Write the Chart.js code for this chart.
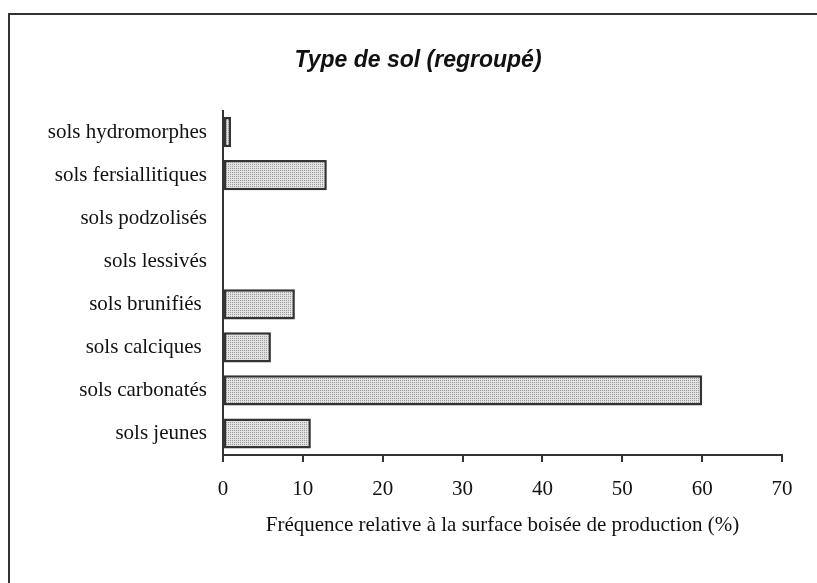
<!DOCTYPE html>
<html>
<head>
<meta charset="utf-8">
<script src="https://cdn.jsdelivr.net/npm/chart.js@4/dist/chart.umd.min.js"></script>
<style>
  html, body { margin: 0; padding: 0; background: #fff; }
  #wrap { width: 817px; height: 583px; }
</style>
</head>
<body>
<div id="wrap"><canvas id="c" width="817" height="583"></canvas></div>
<script>
const chartTitle = 'Type de sol (regroupé)';
const axisTitle = 'Fréquence relative à la surface boisée de production (%)';
const categories = [
  'sols hydromorphes',
  'sols fersiallitiques',
  'sols podzolisés',
  'sols lessivés',
  'sols brunifiés ',
  'sols calciques ',
  'sols carbonatés',
  'sols jeunes'
];
const values = [1, 13, 0, 0, 9, 6, 60, 11];
const xTicks = [0, 10, 20, 30, 40, 50, 60, 70];

const LINE = '#333333';

function makePattern() {
  const p = document.createElement('canvas');
  p.width = 2; p.height = 2;
  const g = p.getContext('2d');
  g.fillStyle = '#e2e2e2';
  g.fillRect(0, 0, 2, 2);
  g.fillStyle = '#9a9a9a';
  g.fillRect(0, 0, 1, 1);
  return g.createPattern(p, 'repeat');
}

const framePlugin = {
  id: 'frame',
  afterLayout(chart) {
    // centre the title over x = 418 like the reference
    const t = chart.titleBlock;
    if (t) { t.left += 28; }
  },
  afterDraw(chart) {
    const ctx = chart.ctx;
    ctx.save();
    ctx.strokeStyle = LINE;
    ctx.lineWidth = 2;
    ctx.beginPath();
    ctx.moveTo(9, 583);
    ctx.lineTo(9, 14);
    ctx.lineTo(817, 14);
    ctx.stroke();
    ctx.restore();
  }
};

const ctx = document.getElementById('c').getContext('2d');
new Chart(ctx, {
  type: 'bar',
  data: {
    labels: categories,
    datasets: [{
      data: values,
      backgroundColor: makePattern(),
      borderColor: LINE,
      borderWidth: 2.5,
      borderSkipped: false,
      barPercentage: 0.7,
      categoryPercentage: 1.0
    }]
  },
  plugins: [framePlugin],
  options: {
    indexAxis: 'y',
    responsive: false,
    animation: false,
    devicePixelRatio: 1,
    layout: { padding: { left: 26, right: 35, top: 0, bottom: 28 } },
    plugins: {
      legend: { display: false },
      tooltip: { enabled: false },
      title: {
        display: true,
        text: chartTitle,
        color: '#111',
        font: { family: 'Liberation Sans', size: 23, style: 'italic', weight: 'bold', lineHeight: 1.2 },
        padding: { top: 47, bottom: 36 }
      }
    },
    scales: {
      x: {
        type: 'linear',
        position: 'bottom',
        min: xTicks[0],
        max: xTicks[xTicks.length - 1],
        afterBuildTicks: (s) => { s.ticks = xTicks.map(v => ({ value: v })); },
        afterFit: (s) => { s.height = 100; },
        border: { display: true, color: LINE, width: 2 },
        grid: { display: true, drawOnChartArea: false, drawTicks: true, tickLength: 7, color: LINE, lineWidth: 2 },
        ticks: {
          color: '#111',
          padding: 15,
          font: { family: 'Liberation Serif', size: 21 }
        },
        title: {
          display: true,
          text: axisTitle,
          color: '#111',
          font: { family: 'Liberation Serif', size: 21, lineHeight: 1.2 },
          padding: { top: 17, bottom: 17 }
        }
      },
      y: {
        type: 'category',
        position: 'left',
        offset: true,
        afterFit: (s) => { s.width = 197; },
        border: { display: true, color: LINE, width: 2 },
        grid: { display: false, drawTicks: false },
        ticks: {
          color: '#111',
          padding: 16,
          font: { family: 'Liberation Serif', size: 21 }
        }
      }
    }
  }
});
</script>
</body>
</html>
